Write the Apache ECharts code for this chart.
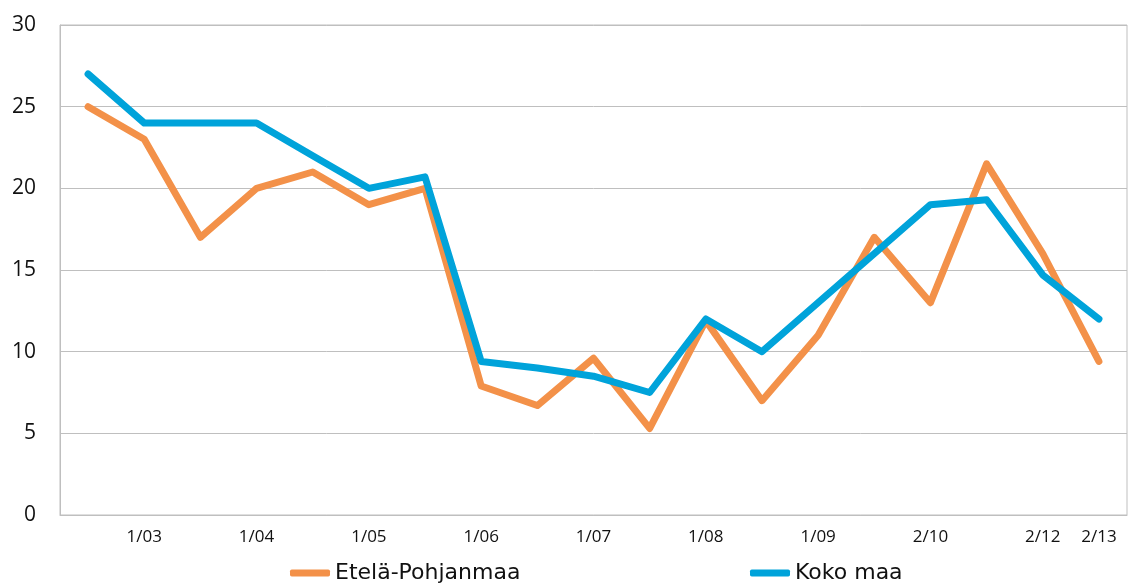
<!DOCTYPE html>
<html>
<head>
<meta charset="utf-8">
<script src="https://cdn.jsdelivr.net/npm/echarts@6/dist/echarts.min.js"></script>
<style>
html,body{margin:0;padding:0;background:#fff;}
#chart{width:1132px;height:588px;}
</style>
</head>
<body>
<div id="chart"></div>
<script>
const categories = ['', '1/03', '', '1/04', '', '1/05', '', '1/06', '', '1/07', '', '1/08', '', '1/09', '', '2/10', '', '2/12', '2/13'];
const etelaPohjanmaa = [25, 23, 17, 20, 21, 19, 20, 7.9, 6.7, 9.6, 5.3, 11.9, 7.0, 11.0, 17.0, 13.0, 21.5, 16.0, 9.4];
const kokoMaa = [27, 24, 24, 24, 22, 20, 20.7, 9.4, 9.0, 8.5, 7.5, 12.0, 10.0, 13.0, 16.0, 19.0, 19.3, 14.7, 12.0];
const yTicks = { min: 0, max: 30, interval: 5 };

const chart = echarts.init(document.getElementById('chart'), null, { renderer: 'canvas' });
const font = 'DejaVu Sans';
const legendCommon = {
  top: 562,
  padding: 0,
  itemWidth: 40, itemHeight: 7,
  icon: 'roundRect',
  textStyle: { fontFamily: font, fontSize: 22, color: '#111' }
};
chart.setOption({
  animation: false,
  grid: { left: 60, right: 5, top: 25, bottom: 73, show: true, borderColor: '#BFBFBF', borderWidth: 1, backgroundColor: 'transparent' },
  legend: [
    Object.assign({ left: 290, data: ['Etelä-Pohjanmaa'] }, legendCommon),
    Object.assign({ left: 750, data: ['Koko maa'] }, legendCommon)
  ],
  xAxis: {
    type: 'category',
    data: categories,
    boundaryGap: true,
    axisLine: { show: true, lineStyle: { color: '#BFBFBF', width: 1 } },
    axisTick: { show: false },
    axisLabel: { interval: 0, margin: 14, fontFamily: 'Open Sans', fontSize: 17, color: '#111' }
  },
  yAxis: {
    type: 'value',
    min: yTicks.min, max: yTicks.max, interval: yTicks.interval,
    axisLine: { show: true, lineStyle: { color: '#BFBFBF', width: 1 } },
    axisTick: { show: false },
    splitLine: { show: true, lineStyle: { color: '#BFBFBF', width: 1 } },
    axisLabel: { margin: 24, fontFamily: 'Open Sans', fontSize: 21, color: '#111' }
  },
  series: [
    {
      name: 'Etelä-Pohjanmaa', type: 'line', data: etelaPohjanmaa,
      showSymbol: false, symbol: 'none', color: '#F39149',
      lineStyle: { width: 7, color: '#F39149', cap: 'round', join: 'round' }
    },
    {
      name: 'Koko maa', type: 'line', data: kokoMaa,
      showSymbol: false, symbol: 'none', color: '#00A3DA',
      lineStyle: { width: 7, color: '#00A3DA', cap: 'round', join: 'round' }
    }
  ]
});
</script>
</body>
</html>
